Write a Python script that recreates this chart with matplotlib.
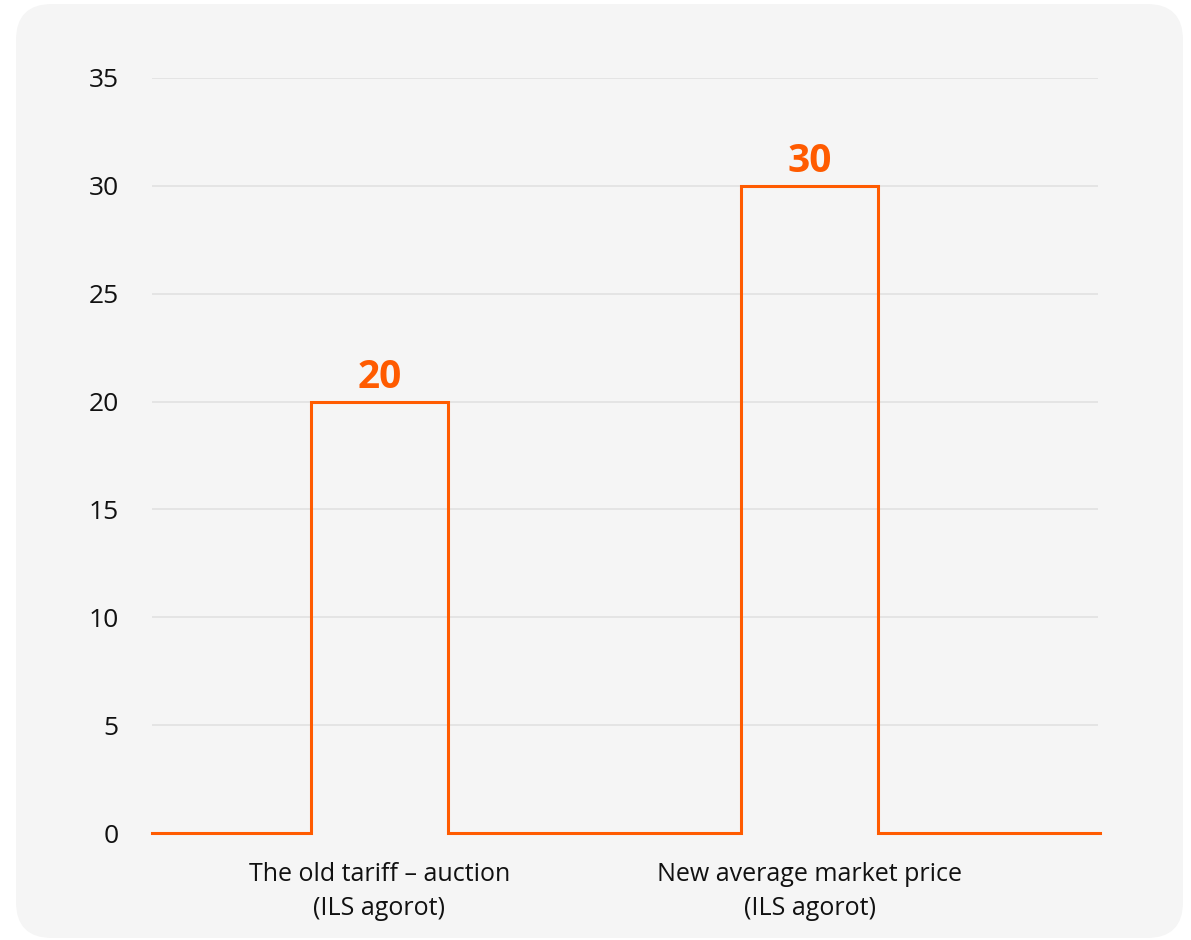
"""Old auction tariff vs. new average market price, outlined step bars."""
import matplotlib
matplotlib.use("Agg")
import matplotlib.pyplot as plt
from matplotlib.patches import FancyBboxPatch
import numpy as np

CATEGORIES = ["The old tariff \u2013 auction\n(ILS agorot)",
              "New average market price\n(ILS agorot)"]
VALUES = [20, 30]
Y_TICKS = [0, 5, 10, 15, 20, 25, 30, 35]

ORANGE = "#ff5b00"
PANEL = "#f5f5f5"
GRID = "#e4e4e4"
BAR_WIDTH = 0.318

plt.rcParams["font.family"] = ["Open Sans", "DejaVu Sans"]

fig = plt.figure(figsize=(11.91, 9.40), dpi=100)
fig.patch.set_facecolor("white")

# rounded card behind the chart
r = 0.36
card = FancyBboxPatch((0.16 + r, 0.02 + r), 11.67 - 2 * r, 9.34 - 2 * r,
                      boxstyle=f"round,pad={r}", transform=fig.dpi_scale_trans,
                      facecolor=PANEL, edgecolor="none", zorder=-1)
fig.patches.append(card)

ax = fig.add_axes([0.1276, 0.1138, 0.796, 0.8033])
ax.set_facecolor("none")

x = np.arange(len(VALUES))
xmin, xmax = -0.528, 1.674
ax.set_xlim(xmin, xmax)
ax.set_ylim(0, 35)

# one continuous outline: baseline, up each bar, back down
px, py = [xmin], [0]
for xi, v in zip(x, VALUES):
    left, right = xi - BAR_WIDTH / 2, xi + BAR_WIDTH / 2
    px += [left, left, right, right]
    py += [0, v, v, 0]
px.append(xmax)
py.append(0)
ax.plot(px, py, color=ORANGE, lw=2.2, solid_joinstyle="miter",
        clip_on=False, zorder=3)

for xi, v in zip(x, VALUES):
    ax.text(xi, v + 0.2, f"{v}", ha="center", va="bottom",
            color=ORANGE, fontsize=28, fontweight="bold")

for t in Y_TICKS[1:]:
    ax.axhline(t, xmin=0, xmax=0.997, color=GRID, lw=1.4, zorder=1)

ax.set_yticks(Y_TICKS)
ax.set_yticklabels([str(t) for t in Y_TICKS])
ax.set_xticks(x)
ax.set_xticklabels(CATEGORIES, linespacing=1.45)
ax.tick_params(axis="y", length=0, pad=24, labelsize=19, labelcolor="#111111")
ax.tick_params(axis="x", length=0, pad=21, labelsize=18, labelcolor="#111111")
for s in ax.spines.values():
    s.set_visible(False)

fig.savefig("out.png", dpi=100)
